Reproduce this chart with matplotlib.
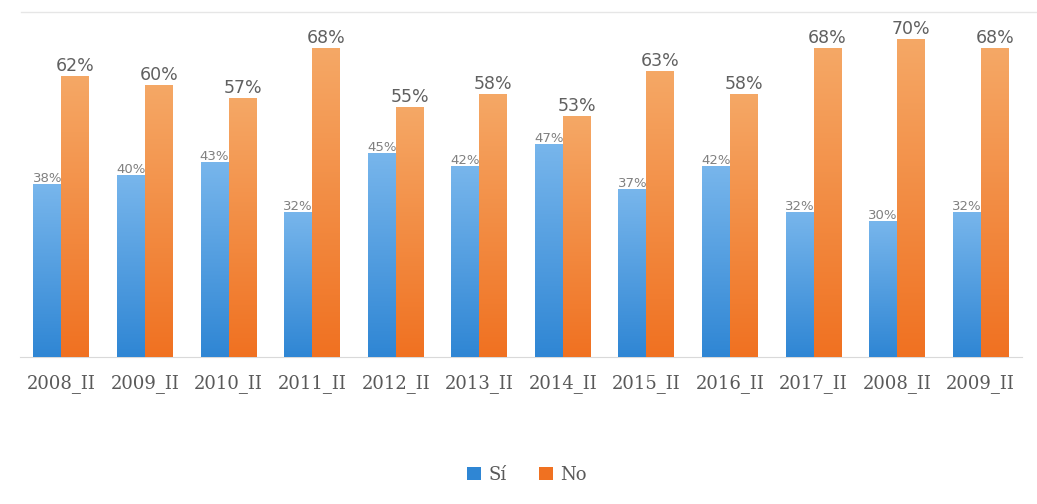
import numpy as np
import matplotlib.pyplot as plt
from matplotlib.colors import LinearSegmentedColormap
from matplotlib.patches import Patch

# Datos por periodo
periodos = ['2008_II', '2009_II', '2010_II', '2011_II', '2012_II', '2013_II',
            '2014_II', '2015_II', '2016_II', '2017_II', '2008_II', '2009_II']
si = [38, 40, 43, 32, 45, 42, 47, 37, 42, 32, 30, 32]
no = [62, 60, 57, 68, 55, 58, 53, 63, 58, 68, 70, 68]

azul_claro, azul = '#78b6ec', '#2f86d4'
naranja_claro, naranja = '#f5a866', '#f07121'

fig = plt.figure(figsize=(10.37, 5.04), dpi=100)
ax = fig.add_axes([0.019, 0.2917, 0.967, 0.6845])

x = np.arange(len(periodos))
ancho = 0.335


def barras_degradado(ax, xs, valores, c_top, c_bottom):
    cmap = LinearSegmentedColormap.from_list('g', [c_bottom, c_top])
    grad = np.linspace(0, 1, 256).reshape(-1, 1)
    bars = ax.bar(xs, valores, ancho, color=c_bottom, zorder=2)
    for b in bars:
        im = ax.imshow(grad, cmap=cmap, origin='lower', aspect='auto',
                       extent=[b.get_x(), b.get_x() + b.get_width(), 0, b.get_height()],
                       zorder=3)
        im.set_clip_path(b)
    return bars


barras_degradado(ax, x - ancho / 2, si, azul_claro, azul)
barras_degradado(ax, x + ancho / 2, no, naranja_claro, naranja)

for xi, v in zip(x, si):
    ax.text(xi - ancho / 2, v - 0.2, f'{v}%', ha='center', va='bottom',
            fontsize=9.5, color='#808080', zorder=4)
for xi, v in zip(x, no):
    ax.text(xi + ancho / 2, v + 0.2, f'{v}%', ha='center', va='bottom',
            fontsize=12.5, color='#606060', zorder=4)

ax.set_xlim(-0.5, len(periodos) - 0.5)
ax.set_ylim(0, 76)
ax.set_xticks(x)
ax.set_xticklabels(periodos, family='DejaVu Serif', fontsize=13, color='#595959')
ax.tick_params(axis='x', length=0, pad=12)
ax.set_yticks([])
for s in ['left', 'right', 'top']:
    ax.spines[s].set_visible(False)
ax.spines['bottom'].set_color('#d9d9d9')

# línea superior del marco
fig.add_artist(plt.Line2D([0.02, 1.0], [0.976, 0.976], color='#e6e6e6', lw=1))

handles = [Patch(facecolor=azul, label='Sí'), Patch(facecolor=naranja, label='No')]
fig.legend(handles=handles, loc='center', bbox_to_anchor=(0.508, 0.058), ncol=2,
           frameon=False, handlelength=0.8, handleheight=0.8, columnspacing=1.8,
           handletextpad=0.4, prop={'family': 'DejaVu Serif', 'size': 13},
           labelcolor='#595959')

fig.savefig('out.png', dpi=100)
